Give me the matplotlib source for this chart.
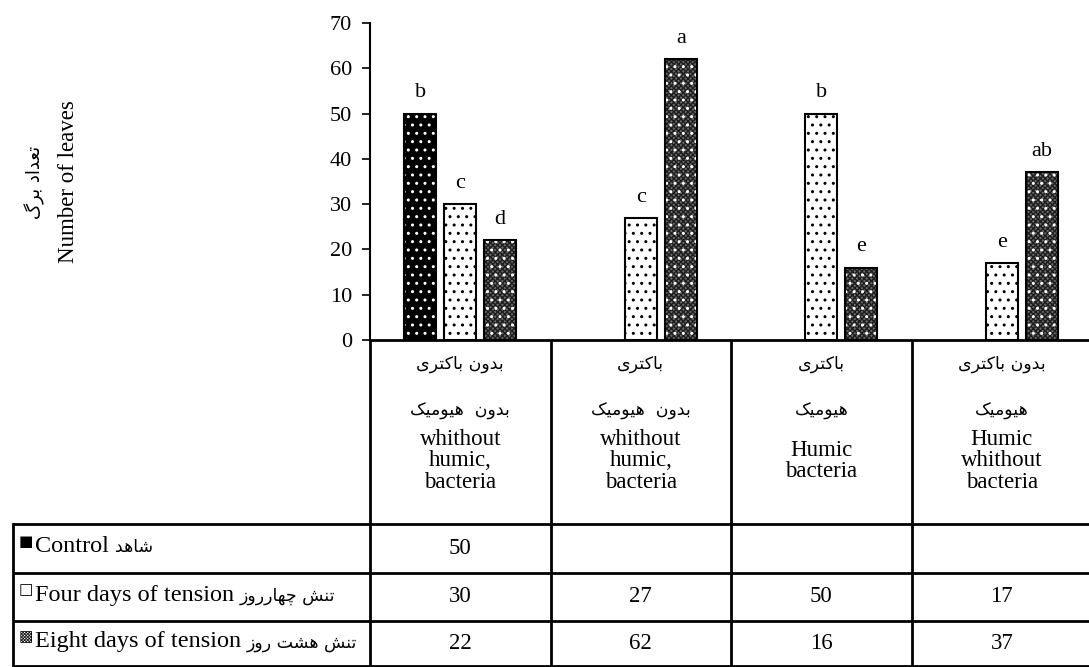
import matplotlib
matplotlib.use("Agg")
import matplotlib.pyplot as plt
from matplotlib.transforms import blended_transform_factory
import numpy as np

# ---------------- data ----------------
categories_fa1 = ["بدون باکتری", "باکتری", "باکتری", "بدون باکتری"]
categories_fa2 = ["بدون  هیومیک", "بدون  هیومیک", "هیومیک", "هیومیک"]
categories_en = ["whithout\nhumic,\nbacteria", "whithout\nhumic,\nbacteria",
                 "Humic\nbacteria", "Humic\nwhithout\nbacteria"]
series_names_en = ["Control", "Four days of tension", "Eight days of tension"]
series_names_fa = ["شاهد", "تنش چهارروز", "تنش هشت روز"]
control = [50, None, None, None]
four_days = [30, 27, 50, 17]
eight_days = [22, 62, 16, 37]
letters_control = ["b", None, None, None]
letters_four = ["c", "c", "b", "e"]
letters_eight = ["d", "a", "e", "ab"]
ylabel_fa = "تعداد برگ"
ylabel_en = "Number of leaves"
yticks = [0, 10, 20, 30, 40, 50, 60, 70]

# ------------- Persian shaping (presentation forms, visual order) -------------
FORMS = {
    '\u0627': ('\uFE8D', '\uFE8E', None, None),
    '\u0628': ('\uFE8F', '\uFE90', '\uFE91', '\uFE92'),
    '\u062A': ('\uFE95', '\uFE96', '\uFE97', '\uFE98'),
    '\u062F': ('\uFEA9', '\uFEAA', None, None),
    '\u0631': ('\uFEAD', '\uFEAE', None, None),
    '\u0632': ('\uFEAF', '\uFEB0', None, None),
    '\u0634': ('\uFEB5', '\uFEB6', '\uFEB7', '\uFEB8'),
    '\u0639': ('\uFEC9', '\uFECA', '\uFECB', '\uFECC'),
    '\u0646': ('\uFEE5', '\uFEE6', '\uFEE7', '\uFEE8'),
    '\u0647': ('\uFEE9', '\uFEEA', '\uFEEB', '\uFEEC'),
    '\u0648': ('\uFEED', '\uFEEE', None, None),
    '\u0645': ('\uFEE1', '\uFEE2', '\uFEE3', '\uFEE4'),
    '\u06A9': ('\uFB8E', '\uFB8F', '\uFB90', '\uFB91'),
    '\u06CC': ('\uFBFC', '\uFBFD', '\uFBFE', '\uFBFF'),
    '\u06AF': ('\uFB92', '\uFB93', '\uFB94', '\uFB95'),
    '\u0686': ('\uFB7A', '\uFB7B', '\uFB7C', '\uFB7D'),
}


def fa(s):
    out = []
    for i, ch in enumerate(s):
        if ch not in FORMS:
            out.append(ch)
            continue
        iso, fin, ini, med = FORMS[ch]
        prev = s[i - 1] if i > 0 else None
        nxt = s[i + 1] if i + 1 < len(s) else None
        jp = prev in FORMS and FORMS[prev][2] is not None
        jn = (ini is not None) and (nxt in FORMS)
        if jp and jn:
            out.append(med)
        elif jp:
            out.append(fin)
        elif jn:
            out.append(ini)
        else:
            out.append(iso)
    return ''.join(reversed(out))


SERIF = ['Liberation Serif', 'DejaVu Sans']
ARAB = ['DejaVu Sans']

# ---------------- figure ----------------
W, H = 1089, 667
fig = plt.figure(figsize=(W / 100, H / 100), dpi=100)
fig.patch.set_facecolor('white')

x_left, x0_px, y70_px = 370, 340, 23
col_w = 180.5
ax = fig.add_axes([x_left / W, 1 - x0_px / H, (W - x_left) / W, (x0_px - y70_px) / H])
ov = fig.add_axes([0, 0, 1, 1], zorder=-1)
ov.set_xlim(0, W)
ov.set_ylim(H, 0)
ov.axis('off')

ax.set_xlim(0, (W - x_left) / col_w)
ax.set_ylim(0, 70)
ax.set_yticks(yticks)
ax.set_yticklabels([str(t) for t in yticks], family=SERIF, fontsize=16)
ax.set_xticks([])
for s in ['top', 'right']:
    ax.spines[s].set_visible(False)
ax.spines['left'].set_linewidth(1.5)
ax.spines['bottom'].set_linewidth(2)
ax.tick_params(axis='y', direction='out', length=6, width=1.2, pad=7)
ax.patch.set_alpha(0)

xc = np.arange(len(four_days)) + 0.5
bw = 32 / col_w
off = 40 / col_w

plt.rcParams['hatch.linewidth'] = 1.0

styles = [
    dict(face='black', hatch='..', hcolor='white'),
    dict(face='white', hatch='..', hcolor='black'),
    dict(face='#6a6a6a', hatch='..', hcolor='white'),
]
series = [control, four_days, eight_days]
letters = [letters_control, letters_four, letters_eight]
for k, (vals, st, lets) in enumerate(zip(series, styles, letters)):
    xs = [x + (k - 1) * off for x, v in zip(xc, vals) if v is not None]
    vs = [v for v in vals if v is not None]
    ls = [l for l, v in zip(lets, vals) if v is not None]
    ax.bar(xs, vs, bw, color=st['face'], linewidth=0, zorder=2)
    if k == 2:
        ax.bar(xs, vs, bw, fill=False, hatch='xxxxxxx', edgecolor='#1e1e1e',
               linewidth=0, zorder=2.5)
    ax.bar(xs, vs, bw, fill=False, hatch=st['hatch'], edgecolor=st['hcolor'],
           linewidth=0, zorder=3)
    ax.bar(xs, vs, bw, fill=False, edgecolor='black', linewidth=1.5, zorder=4)
    for x, v, l in zip(xs, vs, ls):
        ax.annotate(l, (x, v), xytext=(0, 8), textcoords='offset points',
                    ha='center', va='bottom', family=SERIF, fontsize=16)

# ---------------- y labels ----------------
ov.text(35, 182, fa(ylabel_fa), rotation=90, ha='center', va='center',
        family=ARAB, fontsize=13)
ov.text(68, 182, ylabel_en, rotation=90, ha='center', va='center',
        family=SERIF, fontsize=16.5)

# ---------------- table ----------------
tr = blended_transform_factory(ax.transData, ov.transData)
row_lines = [524, 573, 621, 666]
lw = 2
for b in range(len(four_days)):
    ov.plot([b, b], [x0_px, H], color='black', lw=lw, transform=tr,
            solid_capstyle='butt', clip_on=False)
for yl in row_lines:
    ov.plot([13, W], [yl, yl], color='black', lw=lw, solid_capstyle='butt')
ov.plot([13, 13], [row_lines[0], row_lines[-1]], color='black', lw=lw)

for i in range(len(four_days)):
    ov.text(xc[i], 364, fa(categories_fa1[i]), ha='center', va='center',
            transform=tr, family=ARAB, fontsize=12.5)
    ov.text(xc[i], 411, fa(categories_fa2[i]), ha='center', va='center',
            transform=tr, family=ARAB, fontsize=12.5)
    ov.text(xc[i], 461, categories_en[i], ha='center', va='center',
            transform=tr, family=SERIF, fontsize=16.5, linespacing=1.05)

swatches = ['\u25A0', '\u25A1', '\u25A9']
row_centers = [(row_lines[j] + row_lines[j + 1]) / 2 for j in range(3)]
renderer = fig.canvas.get_renderer()
for j in range(3):
    yc = row_centers[j]
    base = yc + 4
    ov.text(19, yc - 7, swatches[j], ha='left', va='center',
            family=['DejaVu Sans'], fontsize=11)
    t_en = ov.text(35, base, series_names_en[j], ha='left', va='baseline',
                   family=SERIF, fontsize=17.5)
    bb = t_en.get_window_extent(renderer)
    x_end = ov.transData.inverted().transform((bb.x1, bb.y0))[0]
    ov.text(x_end + 6, base, fa(series_names_fa[j]), ha='left',
            va='baseline', family=ARAB, fontsize=12.5)
    for i, v in enumerate(series[j]):
        if v is not None:
            ov.text(xc[i], yc, str(v), ha='center', va='center',
                    transform=tr, family=SERIF, fontsize=16.5)

fig.savefig('out.png', dpi=100, facecolor='white')
